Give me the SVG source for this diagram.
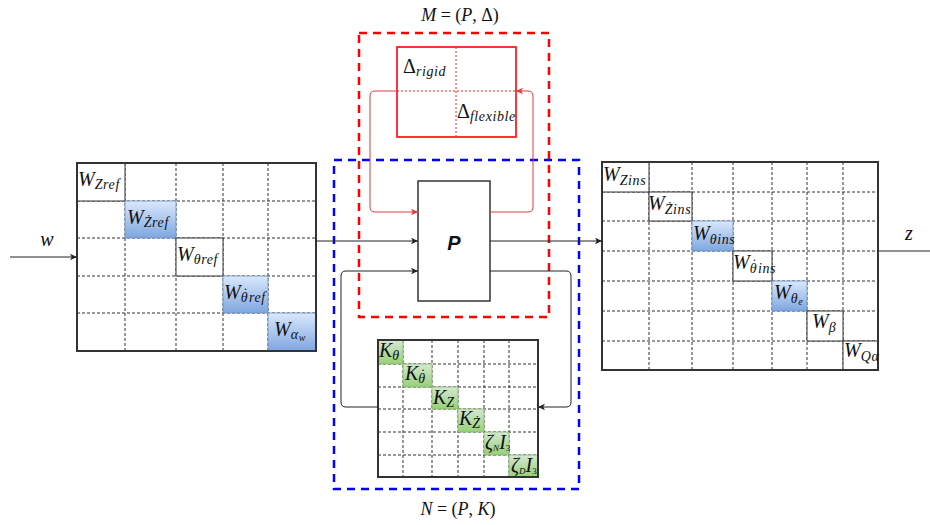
<svg xmlns="http://www.w3.org/2000/svg" width="930" height="525" viewBox="0 0 930 525">
<style>
.bg{fill:#ffffff}
.outer{fill:#ffffff;stroke:#333333;stroke-width:2}
.grid{stroke:#333333;stroke-width:1;stroke-dasharray:3,2;fill:none}
.wc{fill:#ffffff;stroke:#333333;stroke-width:1}
.bc{fill:url(#blue);stroke:#6c8ebf;stroke-width:0.8}
.gc{fill:url(#green);stroke:#82b366;stroke-width:0.8}
.m{font-family:"Liberation Serif","DejaVu Serif",serif;font-style:italic;font-size:20px;fill:#111}
.s{font-size:14px;letter-spacing:0.6px}
.ss{font-size:10px}
.up{font-style:normal}
.lbl{font-family:"Liberation Serif","DejaVu Serif",serif;font-size:18px;fill:#111}
.conn{fill:none;stroke:#222;stroke-width:1}
.rconn{fill:none;stroke:#e03a3a;stroke-width:1}
.rdash{fill:none;stroke:#ff0000;stroke-width:2.5;stroke-dasharray:8,6}
.bdash{fill:none;stroke:#0000ff;stroke-width:2.5;stroke-dasharray:8,6}
</style>
<defs>
<linearGradient id="blue" x1="0" y1="0" x2="0" y2="1"><stop offset="0" stop-color="#dae8fc"/><stop offset="1" stop-color="#7ea6e0"/></linearGradient>
<linearGradient id="green" x1="0" y1="0" x2="0" y2="1"><stop offset="0" stop-color="#d5e8d4"/><stop offset="1" stop-color="#97d077"/></linearGradient>
<marker id="ah" markerWidth="8" markerHeight="8" refX="7" refY="4" orient="auto" markerUnits="userSpaceOnUse"><path d="M0,0.8 L7,4 L0,7.2 L1.8,4 Z" fill="#222"/></marker>
<marker id="ahr" markerWidth="8" markerHeight="8" refX="7" refY="4" orient="auto" markerUnits="userSpaceOnUse"><path d="M0,0.8 L7,4 L0,7.2 L1.8,4 Z" fill="#e03a3a"/></marker>
</defs>
<rect class="bg" x="0" y="0" width="930" height="525"/>

<g id="frame-M">
<rect class="rdash" x="359" y="33" width="190" height="284"/>
<text class="lbl" x="460" y="21" text-anchor="middle"><tspan font-style="italic">M</tspan> = (<tspan font-style="italic">P</tspan>, Δ)</text>
</g>

<g id="frame-N">
<rect class="bdash" x="334" y="160" width="245" height="329"/>
<text class="lbl" x="458" y="515" text-anchor="middle"><tspan font-style="italic">N</tspan> = (<tspan font-style="italic">P</tspan>, <tspan font-style="italic">K</tspan>)</text>
</g>

<g id="delta">
<rect x="397" y="47" width="119" height="90" fill="#fff" stroke="#ff2020" stroke-width="1.8"/>
<line x1="456" y1="47" x2="456" y2="137" stroke="#ff2020" stroke-width="1" stroke-dasharray="2,2"/>
<line x1="397" y1="91" x2="516" y2="91" stroke="#ff2020" stroke-width="1" stroke-dasharray="2,2"/>
<text class="m" x="403" y="73"><tspan class="up">Δ</tspan><tspan class="s" dy="3">rigid</tspan></text>
<text class="m" x="457" y="118"><tspan class="up">Δ</tspan><tspan class="s" dy="3">flexible</tspan></text>
</g>

<g id="P">
<rect x="418" y="181" width="72" height="120" fill="#fff" stroke="#333" stroke-width="1.5"/>
<text x="454" y="250" text-anchor="middle" font-family="Liberation Sans,Arial,sans-serif" font-weight="bold" font-style="italic" font-size="20" fill="#111">P</text>
</g>

<g id="Win">
<rect class="outer" x="77" y="163" width="239" height="188"/>
<g class="grid">
<line x1="125" y1="163" x2="125" y2="351"/><line x1="176" y1="163" x2="176" y2="351"/><line x1="223" y1="163" x2="223" y2="351"/><line x1="268" y1="163" x2="268" y2="351"/>
<line x1="77" y1="201" x2="316" y2="201"/><line x1="77" y1="238" x2="316" y2="238"/><line x1="77" y1="276" x2="316" y2="276"/><line x1="77" y1="313" x2="316" y2="313"/>
</g>
<rect class="wc" x="77" y="163" width="48" height="38"/>
<rect class="bc" x="125" y="201" width="51" height="37"/>
<rect class="wc" x="176" y="238" width="47" height="38"/>
<rect class="bc" x="223" y="276" width="45" height="37"/>
<rect class="bc" x="268" y="313" width="48" height="38"/>
<rect x="77" y="163" width="239" height="188" fill="none" stroke="#333" stroke-width="2"/>
<text class="m" x="78" y="186">W<tspan class="s" dy="3">Zref</tspan></text>
<text class="m" x="127" y="224">W<tspan class="s" dy="3">Żref</tspan></text>
<text class="m" x="177" y="261">W<tspan class="s" dy="3">θref</tspan></text>
<text class="m" x="224" y="299">W<tspan class="s" dy="3">θ</tspan><tspan class="s" dx="-6" dy="-4">˙</tspan><tspan class="s" dx="1.5" dy="4">ref</tspan></text>
<text class="m" x="274" y="336">W<tspan class="s" dy="3">α</tspan><tspan class="ss" dy="2">w</tspan></text>
</g>

<g id="Wout">
<rect class="outer" x="602" y="162" width="276" height="208"/>
<g class="grid">
<line x1="649" y1="162" x2="649" y2="370"/><line x1="692" y1="162" x2="692" y2="370"/><line x1="733" y1="162" x2="733" y2="370"/><line x1="772" y1="162" x2="772" y2="370"/><line x1="807" y1="162" x2="807" y2="370"/><line x1="843" y1="162" x2="843" y2="370"/>
<line x1="602" y1="192" x2="878" y2="192"/><line x1="602" y1="221" x2="878" y2="221"/><line x1="602" y1="251" x2="878" y2="251"/><line x1="602" y1="281" x2="878" y2="281"/><line x1="602" y1="311" x2="878" y2="311"/><line x1="602" y1="341" x2="878" y2="341"/>
</g>
<rect class="wc" x="602" y="162" width="47" height="30"/>
<rect class="wc" x="649" y="192" width="43" height="29"/>
<rect class="bc" x="692" y="221" width="41" height="30"/>
<rect class="wc" x="733" y="251" width="39" height="30"/>
<rect class="bc" x="772" y="281" width="35" height="30"/>
<rect class="wc" x="807" y="311" width="36" height="30"/>
<rect class="wc" x="843" y="341" width="35" height="29"/>
<rect x="602" y="162" width="276" height="208" fill="none" stroke="#333" stroke-width="2"/>
<text class="m" x="603" y="181">W<tspan class="s" dy="4">Zins</tspan></text>
<text class="m" x="648" y="210">W<tspan class="s" dy="4">Żins</tspan></text>
<text class="m" x="693" y="240">W<tspan class="s" dy="4">θins</tspan></text>
<text class="m" x="733" y="269">W<tspan class="s" dy="4">θ</tspan><tspan class="s" dx="-6" dy="-4">˙</tspan><tspan class="s" dx="1.5" dy="4">ins</tspan></text>
<text class="m" x="774" y="299">W<tspan class="s" dy="4">θ</tspan><tspan class="ss" dy="2">e</tspan></text>
<text class="m" x="812" y="328">W<tspan class="s" dy="4">β</tspan></text>
<text class="m" x="844" y="357">W<tspan class="s" dy="4">Qα</tspan></text>
</g>

<g id="K">
<rect class="outer" x="378" y="340" width="160" height="137"/>
<g class="grid">
<line x1="403" y1="340" x2="403" y2="477"/><line x1="432" y1="340" x2="432" y2="477"/><line x1="458" y1="340" x2="458" y2="477"/><line x1="484" y1="340" x2="484" y2="477"/><line x1="509" y1="340" x2="509" y2="477"/>
<line x1="378" y1="364" x2="538" y2="364"/><line x1="378" y1="387" x2="538" y2="387"/><line x1="378" y1="409" x2="538" y2="409"/><line x1="378" y1="432" x2="538" y2="432"/><line x1="378" y1="455" x2="538" y2="455"/>
</g>
<rect class="gc" x="378" y="340" width="25" height="24"/>
<rect class="gc" x="403" y="364" width="29" height="23"/>
<rect class="gc" x="432" y="387" width="26" height="22"/>
<rect class="gc" x="458" y="409" width="26" height="23"/>
<rect class="gc" x="484" y="432" width="25" height="23"/>
<rect class="gc" x="509" y="455" width="29" height="22"/>
<rect x="378" y="340" width="160" height="137" fill="none" stroke="#333" stroke-width="2"/>
<text class="m" x="379" y="357">K<tspan class="s" dy="3">θ</tspan></text>
<text class="m" x="405" y="380">K<tspan class="s" dy="3">θ</tspan><tspan class="s" dx="-6" dy="-4">˙</tspan></text>
<text class="m" x="433" y="404">K<tspan class="s" dy="3">Z</tspan></text>
<text class="m" x="459" y="425">K<tspan class="s" dy="3">Ż</tspan></text>
<text class="m" x="485" y="449" font-size="13">ζ<tspan font-size="9" dy="2">N</tspan><tspan dy="-2">I</tspan><tspan font-size="9" dy="2" class="up">3</tspan></text>
<text class="m" x="511" y="472" font-size="13">ζ<tspan font-size="9" dy="2">D</tspan><tspan dy="-2">I</tspan><tspan font-size="9" dy="2" class="up">3</tspan></text>
</g>

<g id="labels">
<text class="m" x="47" y="246" text-anchor="middle">w</text>
<text class="m" x="909" y="240" text-anchor="middle">z</text>
</g>

<g id="connectors">
<path class="conn" d="M10 257 L77 257" marker-end="url(#ah)"/>
<path class="conn" d="M316 241 L418 241" marker-end="url(#ah)"/>
<path class="conn" d="M490 241 L602 241" marker-end="url(#ah)"/>
<path class="conn" d="M878 251 L930 251"/>
<path class="conn" d="M378 407 L346 407 Q341 407 341 402 L341 276 Q341 271 346 271 L418 271" marker-end="url(#ah)"/>
<path class="conn" d="M490 271 L566 271 Q571 271 571 276 L571 402 Q571 407 566 407 L538 407" marker-end="url(#ah)"/>
<path class="rconn" d="M397 91 L375 91 Q370 91 370 96 L370 207 Q370 212 375 212 L418 212" marker-end="url(#ahr)"/>
<path class="rconn" d="M490 212 L528 212 Q533 212 533 207 L533 96 Q533 91 528 91 L516 91" marker-end="url(#ahr)"/>
</g>
</svg>
